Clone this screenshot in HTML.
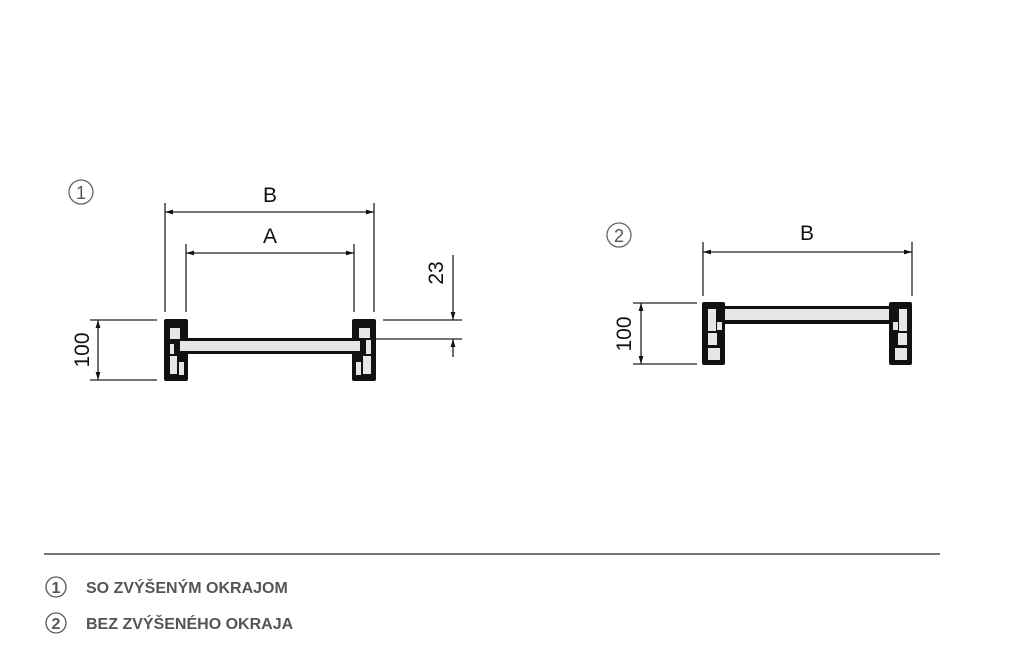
<!DOCTYPE html>
<html><head><meta charset="utf-8"><style>
html,body{margin:0;padding:0;background:#fff;width:1024px;height:650px;overflow:hidden}
svg{display:block}
text{font-family:"Liberation Sans",sans-serif}
.l{stroke:#222;stroke-width:1.3;fill:none}
.g{fill:#e6e6e6}
</style></head><body>
<svg width="1024" height="650" viewBox="0 0 1024 650">
<defs>
<marker id="a" viewBox="0 0 10 6" refX="10" refY="3" markerWidth="8" markerHeight="5" orient="auto-start-reverse" markerUnits="userSpaceOnUse"><path d="M0,0L10,3L0,6z" fill="#111"/></marker>
</defs>
<circle cx="81" cy="192" r="12" fill="none" stroke="#666" stroke-width="1.3"/>
<text x="81" y="199" font-size="18" text-anchor="middle" fill="#555">1</text>
<text x="270" y="202" font-size="21" text-anchor="middle" fill="#111">B</text>
<text x="270" y="243" font-size="21" text-anchor="middle" fill="#111">A</text>
<line class="l" x1="165" y1="203" x2="165" y2="312"/>
<line class="l" x1="374" y1="203" x2="374" y2="312"/>
<line class="l" x1="165" y1="212" x2="374" y2="212" marker-start="url(#a)" marker-end="url(#a)"/>
<line class="l" x1="186" y1="244" x2="186" y2="312"/>
<line class="l" x1="354" y1="244" x2="354" y2="312"/>
<line class="l" x1="186" y1="253" x2="354" y2="253" marker-start="url(#a)" marker-end="url(#a)"/>
<line class="l" x1="90" y1="320" x2="157" y2="320"/>
<line class="l" x1="90" y1="380" x2="157" y2="380"/>
<line class="l" x1="98" y1="320" x2="98" y2="380" marker-start="url(#a)" marker-end="url(#a)"/>
<text transform="translate(89,350) rotate(-90)" font-size="21" text-anchor="middle" fill="#111">100</text>
<line class="l" x1="383" y1="320" x2="462" y2="320"/>
<line class="l" x1="376" y1="339" x2="462" y2="339"/>
<line class="l" x1="453" y1="255" x2="453" y2="320" marker-end="url(#a)"/>
<line class="l" x1="453" y1="357" x2="453" y2="339" marker-end="url(#a)"/>
<text transform="translate(443,273) rotate(-90)" font-size="21" text-anchor="middle" fill="#111">23</text>
<rect x="176" y="338" width="188" height="16" fill="#111"/>
<rect x="180" y="341" width="180" height="10" class="g"/>
<rect x="164" y="319" width="24" height="62" rx="2" fill="#111"/>
<rect x="170" y="328" width="10" height="11" class="g"/>
<rect x="170" y="344" width="4" height="10" class="g"/>
<rect x="170" y="356" width="7" height="18" class="g"/>
<rect x="179" y="362" width="5" height="13" class="g"/>
<rect x="180" y="341" width="8" height="10" class="g"/>
<rect x="352" y="319" width="24" height="62" rx="2" fill="#111"/>
<rect x="359" y="328" width="11" height="10" class="g"/>
<rect x="366" y="340" width="5" height="14" class="g"/>
<rect x="363" y="356" width="8" height="18" class="g"/>
<rect x="356" y="362" width="5" height="13" class="g"/>
<rect x="352" y="341" width="8" height="10" class="g"/>
<circle cx="619" cy="235" r="12" fill="none" stroke="#666" stroke-width="1.3"/>
<text x="619" y="242" font-size="18" text-anchor="middle" fill="#555">2</text>
<text x="807" y="240" font-size="21" text-anchor="middle" fill="#111">B</text>
<line class="l" x1="703" y1="242" x2="703" y2="296"/>
<line class="l" x1="912" y1="242" x2="912" y2="296"/>
<line class="l" x1="703" y1="252" x2="912" y2="252" marker-start="url(#a)" marker-end="url(#a)"/>
<line class="l" x1="633" y1="303" x2="697" y2="303"/>
<line class="l" x1="633" y1="364" x2="697" y2="364"/>
<line class="l" x1="641" y1="303" x2="641" y2="364" marker-start="url(#a)" marker-end="url(#a)"/>
<text transform="translate(631,334) rotate(-90)" font-size="21" text-anchor="middle" fill="#111">100</text>
<rect x="710" y="306" width="195" height="18" fill="#111"/>
<rect x="716" y="309" width="183" height="11" class="g"/>
<rect x="702" y="302" width="23" height="63" rx="2" fill="#111"/>
<rect x="708" y="309" width="8" height="22" class="g"/>
<rect x="708" y="333" width="9" height="12" class="g"/>
<rect x="708" y="348" width="12" height="12" class="g"/>
<rect x="717" y="322" width="5" height="8" class="g"/>
<rect x="889" y="302" width="23" height="63" rx="2" fill="#111"/>
<rect x="899" y="309" width="8" height="22" class="g"/>
<rect x="898" y="333" width="9" height="12" class="g"/>
<rect x="895" y="348" width="12" height="12" class="g"/>
<rect x="893" y="322" width="5" height="8" class="g"/>
<line x1="44" y1="554" x2="940" y2="554" stroke="#777" stroke-width="2"/>
<circle cx="56" cy="587" r="10" fill="none" stroke="#555" stroke-width="1.3"/>
<text x="56" y="593" font-size="16" font-weight="bold" text-anchor="middle" fill="#555">1</text>
<text x="86" y="593" font-size="16" font-weight="bold" fill="#555">SO ZVÝŠENÝM OKRAJOM</text>
<circle cx="56" cy="623" r="10" fill="none" stroke="#555" stroke-width="1.3"/>
<text x="56" y="629" font-size="16" font-weight="bold" text-anchor="middle" fill="#555">2</text>
<text x="86" y="629" font-size="16" font-weight="bold" fill="#555">BEZ ZVÝŠENÉHO OKRAJA</text>
</svg>
</body></html>
